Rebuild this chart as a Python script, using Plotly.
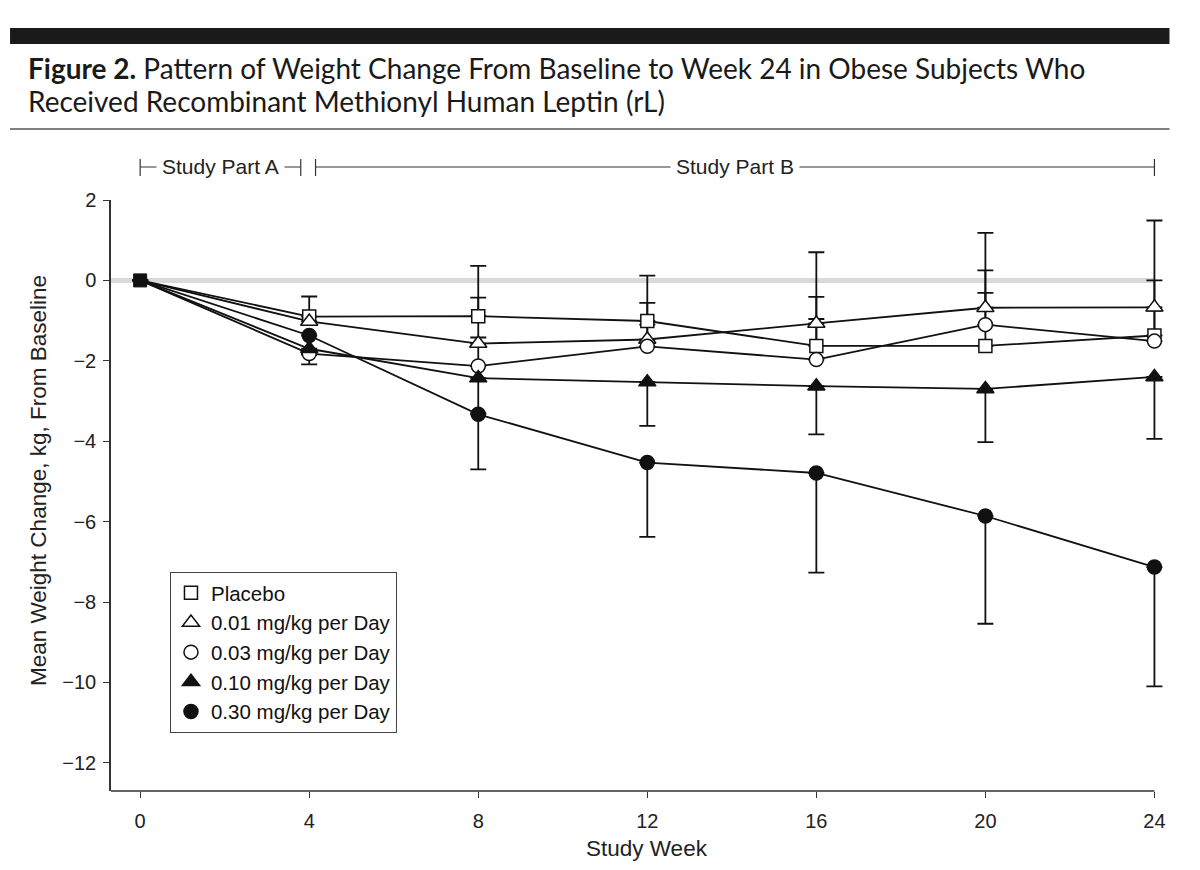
import plotly.graph_objects as go

# ---------------- data ----------------
weeks = [0, 4, 8, 12, 16, 20, 24]
series_names = ["Placebo", "0.01 mg/kg per Day", "0.03 mg/kg per Day",
                "0.10 mg/kg per Day", "0.30 mg/kg per Day"]

placebo = [0, -0.90, -0.89, -1.01, -1.63, -1.63, -1.37]
dose_001 = [0, -1.02, -1.57, -1.47, -1.07, -0.68, -0.67]
dose_003 = [0, -1.82, -2.13, -1.64, -1.97, -1.10, -1.51]
dose_010 = [0, -1.70, -2.43, -2.53, -2.63, -2.70, -2.40]
dose_030 = [0, -1.37, -3.33, -4.53, -4.79, -5.86, -7.13]

# error-bar ends (absolute values), None = no bar
placebo_upper = [None, -0.40, -0.43, -0.56, -0.41, -0.31, 0.00]
dose_001_upper = [None, None, 0.36, 0.12, 0.70, 1.18, 1.49]
dose_003_upper = [None, None, -1.42, -1.10, -0.96, 0.25, -0.75]
dose_010_lower = [None, -1.85, -3.30, -3.62, -3.83, -4.02, -3.94]
dose_030_lower = [None, -2.09, -4.70, -6.38, -7.27, -8.54, -10.10]

baseline_week = [0]
baseline_value = [0]

x_ticks = [0, 4, 8, 12, 16, 20, 24]
y_ticks = [-12, -10, -8, -6, -4, -2, 0, 2]

# ---------------- layout helpers ----------------
W, H = 1200, 870
XMIN, XAX_END, XMAX = -0.69, 24, 24.25
YMIN, YMAX = -12.7, 2
L, T, B = 111, 200, 79
R = 34.5
PW = W - L - R
PH = H - T - B


def px(x):
    return (x - L) / PW


def py(y):
    return (H - B - y) / PH


def wx(w):
    return (w - XMIN) / (XMAX - XMIN)


INK = "#111111"
AX_FONT = "Liberation Sans, Arial, Helvetica, sans-serif"


def err(vals, bounds, upper=True):
    out = []
    for v, b in zip(vals, bounds):
        if b is None:
            out.append(0)
        else:
            out.append((b - v) if upper else (v - b))
    return out


series = [
    (placebo, placebo_upper, True, "square", "white", 13),
    (dose_001, dose_001_upper, True, "triangle-up", "white", 15),
    (dose_003, dose_003_upper, True, "circle", "white", 14),
    (dose_010, dose_010_lower, False, "triangle-up", INK, 15),
    (dose_030, dose_030_lower, False, "circle", INK, 14),
]

fig = go.Figure()

# lines + error bars
for vals, bounds, upper, sym, fill, size in series:
    e = err(vals, bounds, upper)
    zeros = [0] * len(vals)
    fig.add_trace(go.Scatter(
        x=weeks, y=vals, mode="lines", showlegend=False, hoverinfo="skip",
        line=dict(color=INK, width=1.8), cliponaxis=False,
        error_y=dict(type="data", symmetric=False,
                     array=e if upper else zeros,
                     arrayminus=zeros if upper else e,
                     color=INK, thickness=1.8, width=8),
    ))

# markers (also the legend)
for name, (vals, bounds, upper, sym, fill, size) in zip(series_names, series):
    fig.add_trace(go.Scatter(
        x=weeks[1:], y=vals[1:], mode="markers", name=name, cliponaxis=False,
        marker=dict(symbol=sym, size=size, color=fill,
                    line=dict(color=INK, width=1.5)),
    ))

fig.add_trace(go.Scatter(
    x=baseline_week, y=baseline_value, mode="markers", showlegend=False,
    cliponaxis=False,
    marker=dict(symbol="square", size=13, color=INK, line=dict(color=INK, width=1)),
))

shapes = []
# zero reference line
shapes.append(dict(type="line", xref="x", yref="y", x0=XMIN, x1=XAX_END, y0=0, y1=0,
                   line=dict(color="#d9d9d9", width=5), layer="below"))
# x axis line (ends at week 24)
shapes.append(dict(type="line", xref="paper", yref="paper", x0=0, x1=wx(XAX_END),
                   y0=0, y1=0, line=dict(color="#333333", width=1.5)))
# top black bar and rule
shapes.append(dict(type="rect", xref="paper", yref="paper", x0=px(10), x1=px(1170),
                   y0=py(44), y1=py(28), fillcolor="#1a1a1a", line=dict(width=0)))
shapes.append(dict(type="line", xref="paper", yref="paper", x0=px(10), x1=px(1170),
                   y0=py(129), y1=py(129), line=dict(color="#555555", width=1.5)))

# study part brackets
ybr = py(167)
for a, b in [(0, 3.8), (4.15, 24)]:
    shapes.append(dict(type="line", xref="paper", yref="paper", x0=wx(a), x1=wx(b),
                       y0=ybr, y1=ybr, line=dict(color="#333333", width=1.2)))
    for e_ in (a, b):
        shapes.append(dict(type="line", xref="paper", yref="paper", x0=wx(e_), x1=wx(e_),
                           y0=py(176), y1=py(159), line=dict(color="#333333", width=1.2)))

TITLE_FONT = dict(family="Lato, Open Sans, sans-serif", size=28, color="#1a1a1a")
annotations = [
    dict(text="<b>Figure 2.</b> Pattern of Weight Change From Baseline to Week 24 in Obese Subjects Who",
         xref="paper", yref="paper", x=px(26), y=py(68), xanchor="left", yanchor="middle",
         showarrow=False, font=TITLE_FONT),
    dict(text="Received Recombinant Methionyl Human Leptin (rL)",
         xref="paper", yref="paper", x=px(26), y=py(101), xanchor="left", yanchor="middle",
         showarrow=False, font=TITLE_FONT),
    dict(text="Study Part A", xref="paper", yref="paper", x=wx(1.9), y=ybr,
         xanchor="center", yanchor="middle", showarrow=False, bgcolor="white", borderpad=5,
         font=dict(family=AX_FONT, size=21, color="#222222")),
    dict(text="Study Part B", xref="paper", yref="paper", x=wx(14.07), y=ybr,
         xanchor="center", yanchor="middle", showarrow=False, bgcolor="white", borderpad=5,
         font=dict(family=AX_FONT, size=21, color="#222222")),
    dict(text="Mean Weight Change, kg, From Baseline", xref="paper", yref="paper",
         x=px(38), y=py(481), textangle=-90, xanchor="center", yanchor="middle",
         showarrow=False, font=dict(family=AX_FONT, size=22.5, color="#222222")),
    dict(text="Study Week", xref="paper", yref="paper", x=px(647), y=py(848),
         xanchor="center", yanchor="middle", showarrow=False,
         font=dict(family=AX_FONT, size=22.5, color="#222222")),
]

fig.update_layout(
    width=W, height=H, margin=dict(l=L, r=R, t=T, b=B),
    paper_bgcolor="white", plot_bgcolor="white",
    showlegend=True,
    legend=dict(x=px(170), y=py(572), xanchor="left", yanchor="top",
                bordercolor="#444444", borderwidth=1, bgcolor="white",
                font=dict(family=AX_FONT, size=20.5, color="#111111"),
                itemclick=False),
    shapes=shapes, annotations=annotations,
    xaxis=dict(range=[XMIN, XMAX], tickvals=x_ticks, showgrid=False, zeroline=False,
               showline=False,
               ticks="outside", ticklen=6, tickwidth=1.2, tickcolor="#333333",
               ticklabelstandoff=6,
               tickfont=dict(family=AX_FONT, size=20, color="#222222")),
    yaxis=dict(range=[YMIN, YMAX], tickvals=y_ticks, showgrid=False, zeroline=False,
               showline=True, linecolor="#333333", linewidth=1.5,
               ticks="outside", ticklen=6, tickwidth=1.2, tickcolor="#333333",
               ticklabelstandoff=3,
               tickfont=dict(family=AX_FONT, size=20, color="#222222")),
)

fig.write_html("out.html")
